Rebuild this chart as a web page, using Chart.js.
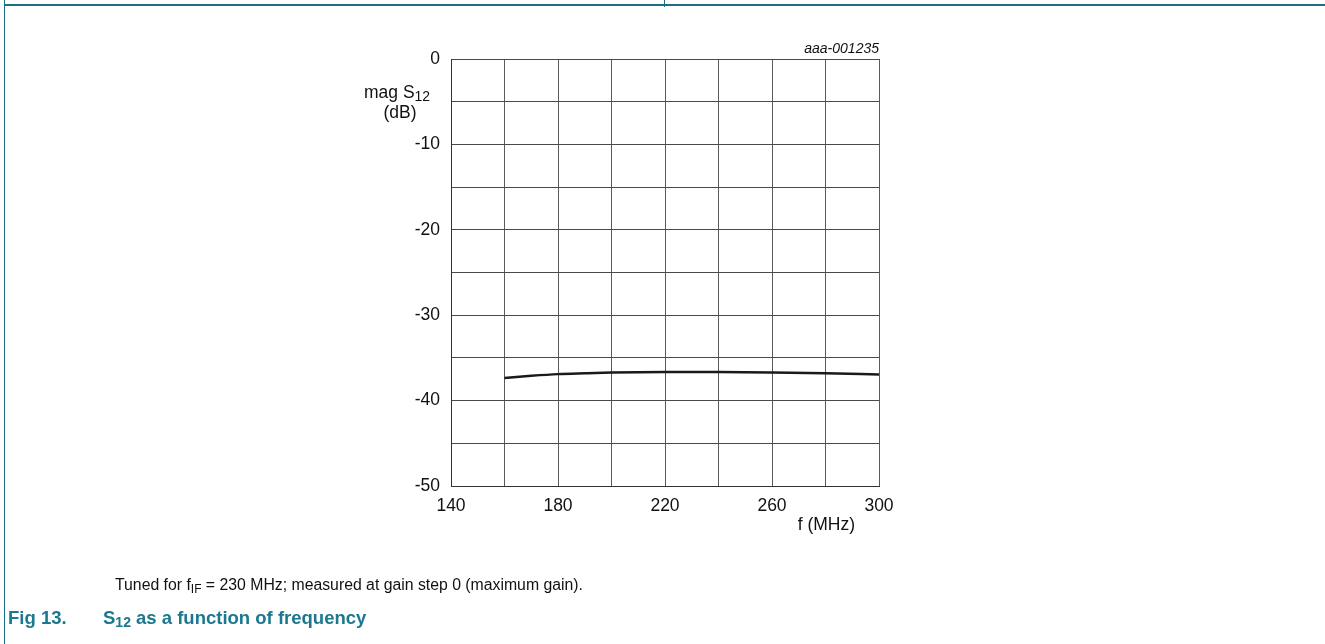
<!DOCTYPE html>
<html>
<head>
<meta charset="utf-8">
<script src="https://cdn.jsdelivr.net/npm/chart.js@4/dist/chart.umd.min.js"></script>
<style>
  html, body { margin: 0; padding: 0; background: #fff; }
  body { width: 1325px; height: 644px; position: relative; overflow: hidden; font-family: "Liberation Sans", Arial, sans-serif; }
  #wrap { position: absolute; left: 0; top: 0; width: 1325px; height: 644px; }
  .frame-top { position: absolute; left: 4px; top: 4px; width: 1321px; height: 2px; background: #1b6f86; }
  .frame-left { position: absolute; left: 4px; top: 0; width: 1px; height: 644px; background: #1b6f86; }
  .frame-tick { position: absolute; left: 664px; top: 0; width: 1px; height: 7px; background: #1b6f86; }
  .note { position: absolute; left: 115px; top: 576px; font-size: 15.8px; color: #111; white-space: nowrap; }
  .fig { position: absolute; left: 8px; top: 607px; font-size: 18.5px; font-weight: bold; color: #1b7890; white-space: nowrap; }
  .fig .num { display: inline-block; width: 95px; }
  sub { font-size: 12px; vertical-align: -3px; line-height: 0; }
  .fig sub { font-size: 14px; }
</style>
</head>
<body>
<div id="wrap"><canvas id="chart" width="1325" height="644"></canvas></div>
<div class="frame-top"></div>
<div class="frame-left"></div>
<div class="frame-tick"></div>
<div class="note">Tuned for f<sub>IF</sub> = 230 MHz; measured at gain step 0 (maximum gain).</div>
<div class="fig"><span class="num">Fig 13.</span>S<sub>12</sub> as a function of frequency</div>
<script>
// frequency (MHz) and S12 magnitude (dB)
const freqMHz = [160, 170, 180, 190, 200, 220, 240, 260, 280, 300];
const s12dB = [-37.35, -37.1, -36.9, -36.8, -36.72, -36.66, -36.65, -36.7, -36.8, -36.95];

const xMin = 140, xMax = 300, xStep = 20;
const yMin = -50, yMax = 0, yStep = 5;
const xLabelEvery = 40, yLabelEvery = 10;

const FONT = '"Liberation Sans", Arial, sans-serif';
const LABEL_SIZE = 17.5;

// axis titles and the figure code drawn next to the plot area
const titlesPlugin = {
    id: 'titles',
    afterDraw(chart) {
        const ctx = chart.ctx;
        const a = chart.chartArea;
        ctx.save();
        ctx.fillStyle = '#111';
        ctx.textBaseline = 'alphabetic';

        // y title: mag S12 (dB)
        ctx.font = LABEL_SIZE + 'px ' + FONT;
        ctx.textAlign = 'left';
        const x0 = a.left - 87;
        ctx.fillText('mag S', x0, a.top + 39);
        const w = ctx.measureText('mag S').width;
        ctx.font = '14px ' + FONT;
        ctx.fillText('12', x0 + w, a.top + 42);
        ctx.font = LABEL_SIZE + 'px ' + FONT;
        ctx.textAlign = 'center';
        ctx.fillText('(dB)', a.left - 51, a.top + 59);

        // x title
        ctx.textAlign = 'right';
        ctx.fillText('f (MHz)', a.right - 24, a.bottom + 44);

        // figure code
        ctx.font = 'italic 14px ' + FONT;
        ctx.fillText('aaa-001235', a.right, a.top - 6);
        ctx.restore();
    }
};

const ctx = document.getElementById('chart').getContext('2d');
const chart = new Chart(ctx, {
    type: 'line',
    data: {
        datasets: [{
            label: 'S12',
            data: freqMHz.map((f, i) => ({ x: f, y: s12dB[i] })),
            borderColor: '#1a1a1a',
            borderWidth: 2.5,
            pointRadius: 0,
            fill: false,
            cubicInterpolationMode: 'monotone'
        }]
    },
    options: {
        responsive: false,
        animation: false,
        events: [],
        layout: {
            padding: { left: 391, right: 446, top: 59, bottom: 118 }
        },
        plugins: {
            legend: { display: false },
            tooltip: { enabled: false }
        },
        scales: {
            x: {
                type: 'linear',
                min: xMin,
                max: xMax,
                afterFit: (scale) => { scale.height = 40; },
                ticks: {
                    stepSize: xStep,
                    autoSkip: false,
                    maxRotation: 0,
                    padding: 10,
                    color: '#111',
                    font: { family: FONT, size: LABEL_SIZE },
                    callback: (v) => ((v - xMin) % xLabelEvery === 0 ? String(v) : '')
                },
                grid: { color: '#5a5a5a', lineWidth: 1, drawTicks: false },
                border: { color: '#333', width: 1 }
            },
            y: {
                type: 'linear',
                min: yMin,
                max: yMax,
                afterFit: (scale) => { scale.width = 60; },
                ticks: {
                    stepSize: yStep,
                    autoSkip: false,
                    padding: 11,
                    color: '#111',
                    font: { family: FONT, size: LABEL_SIZE },
                    callback: (v) => (v % yLabelEvery === 0 ? String(v) : '')
                },
                grid: { color: '#4a4a4a', lineWidth: 1, drawTicks: false },
                border: { color: '#333', width: 1 }
            }
        }
    },
    plugins: [titlesPlugin]
});
</script>
</body>
</html>
